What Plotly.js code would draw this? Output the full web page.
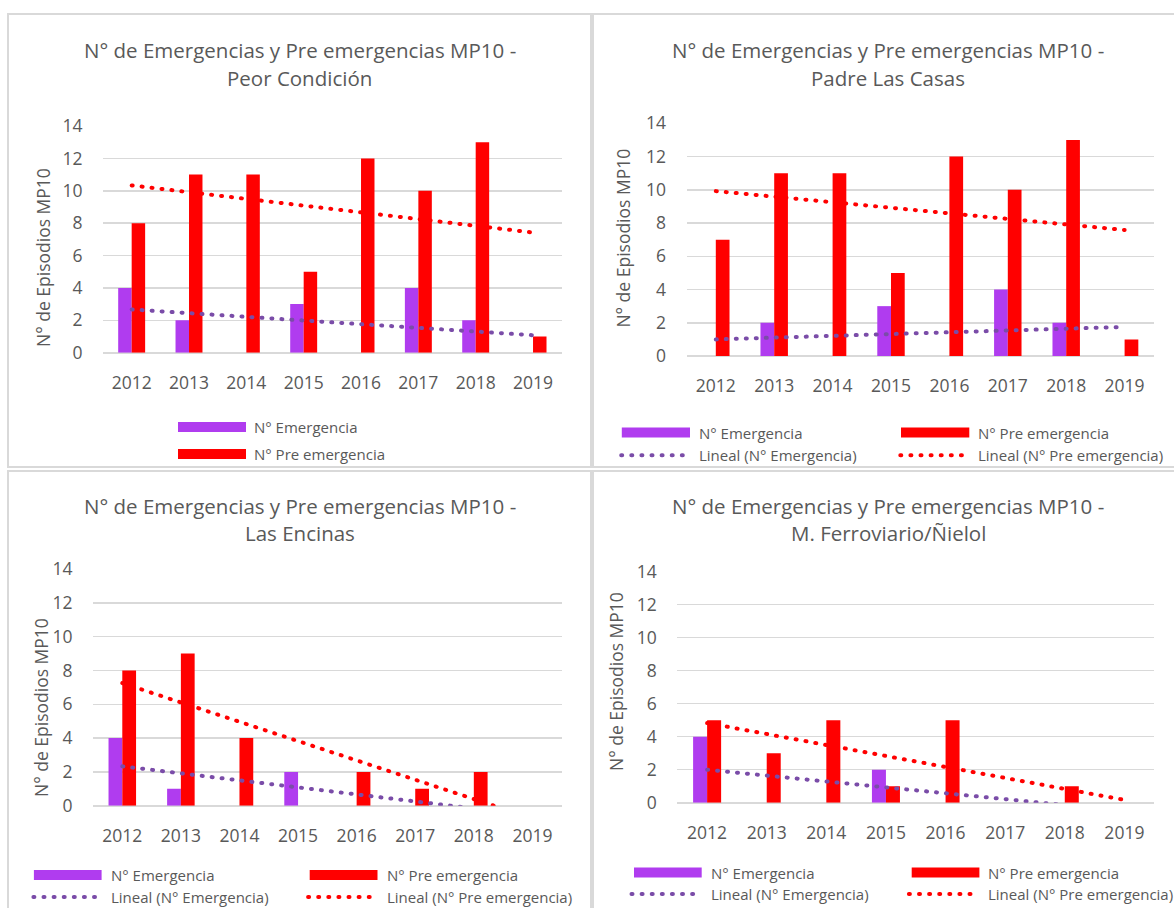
<!DOCTYPE html>
<html>
<head>
<meta charset="utf-8">
<script src="https://cdn.plot.ly/plotly-3.0.1.min.js"></script>
<style>
html, body { margin: 0; padding: 0; background: #ffffff; }
#chart { width: 1174px; height: 908px; }
.scatterlayer .js-line { stroke-linecap: round; }
.shapelayer path { stroke-linecap: round; }
</style>
</head>
<body>
<div id="chart"></div>
<script>
// ---------------- DATA ----------------
const years = ['2012', '2013', '2014', '2015', '2016', '2017', '2018', '2019'];
const yTicks = [0, 2, 4, 6, 8, 10, 12, 14];

const peorEmergencia = [4, 2, 0, 3, 0, 4, 2, 0];
const peorPreEmergencia = [8, 11, 11, 5, 12, 10, 13, 1];
const padreEmergencia = [0, 2, 0, 3, 0, 4, 2, 0];
const padrePreEmergencia = [7, 11, 11, 5, 12, 10, 13, 1];
const encinasEmergencia = [4, 1, 0, 2, 0, 0, 0, 0];
const encinasPreEmergencia = [8, 9, 4, 0, 2, 1, 2, 0];
const ferroEmergencia = [4, 0, 0, 2, 0, 0, 0, 0];
const ferroPreEmergencia = [5, 3, 5, 1, 5, 0, 1, 0];

// Linear trendline values read at 2012 and 2019 (lines leave the axis below 0)
const trendYears = ['2012', '2019'];
const peorTrendEm = [2.67, 1.08];
const peorTrendPre = [10.33, 7.42];
const padreTrendEm = [1.0, 1.75];
const padreTrendPre = [9.92, 7.58];
const encinasTrendEm = [2.33, -0.58];
const encinasTrendPre = [7.25, -0.75];
const ferroTrendEm = [2.0, -0.5];
const ferroTrendPre = [4.83, 0.17];

const titleLine1 = 'N° de Emergencias y Pre emergencias MP10 -';
const stationNames = ['Peor Condición', 'Padre Las Casas', 'Las Encinas', 'M. Ferroviario/Ñielol'];
const yTitle = 'N° de Episodios MP10';
const nameEm = 'N° Emergencia';
const namePre = 'N° Pre emergencia';
const nameTrendEm = 'Lineal (N° Emergencia)';
const nameTrendPre = 'Lineal (N° Pre emergencia)';

// ---------------- STYLE / LAYOUT ----------------
const W = 1174, H = 908;
const fx = p => p / W;
const fy = p => 1 - p / H;
const FONT = '"Open Sans", "Noto Sans", "DejaVu Sans", sans-serif';
const TXT = '#595959';
const GRID = '#d9d9d9';
const C_EM = '#B03CEF';
const C_PRE = '#FF0000';
const C_TEM = '#7A4CA8';
const C_TPRE = '#FF0000';
const DOTS = '1px,9px';

const panels = [
  { em: peorEmergencia, pre: peorPreEmergencia, tEm: peorTrendEm, tPre: peorTrendPre,
    box: [8, 591, 14, 467], plot: { l: 103, r: 561.7, t: 126, b: 352.7 },
    titleX: 299.8, titleY: [50, 78], yt: [43, 258],
    legend: { type: 'v', sw: [178, 246], tx: 252.7, rows: [427, 454] } },
  { em: padreEmergencia, pre: padrePreEmergencia, tEm: padreTrendEm, tPre: padreTrendPre,
    box: [593, 1185, 14, 467], plot: { l: 686.6, r: 1153.8, t: 123.3, b: 356 },
    titleX: 888, titleY: [49.5, 78], yt: [622.6, 238],
    legend: { type: 'g', c1: [621.8, 690, 697.5], c2: [901, 969.3, 976.8],
              d1: [621.7, 682.3], d2: [900.8, 961.4], rows: [432.5, 455.2] } },
  { em: encinasEmergencia, pre: encinasPreEmergencia, tEm: encinasTrendEm, tPre: encinasTrendPre,
    box: [8, 591, 471, 920], plot: { l: 93, r: 561.7, t: 569, b: 805.7 },
    titleX: 299.8, titleY: [505.8, 533.3], yt: [40.5, 707.5],
    legend: { type: 'g', c1: [33.9, 101.6, 110], c2: [309.7, 377.5, 385.8],
              d1: [33.9, 97.1], d2: [308.6, 371.8], rows: [875, 897] } },
  { em: ferroEmergencia, pre: ferroPreEmergencia, tEm: ferroTrendEm, tPre: ferroTrendPre,
    box: [593, 1185, 471, 920], plot: { l: 677.3, r: 1154.2, t: 571.7, b: 802.7 },
    titleX: 888, titleY: [505.8, 533.3], yt: [616, 682],
    legend: { type: 'g', c1: [634, 701.7, 710], c2: [911.7, 979.4, 987],
              d1: [632, 695.3], d2: [909.4, 972.7], rows: [872.5, 894] } }
];

const traces = [];
const layout = {
  width: W, height: H,
  margin: { l: 0, r: 0, t: 0, b: 0 },
  paper_bgcolor: '#ffffff', plot_bgcolor: 'rgba(0,0,0,0)',
  barmode: 'group', bargap: 0.53, bargroupgap: 0,
  showlegend: false,
  font: { family: FONT, color: TXT },
  shapes: [], annotations: []
};

function txt(text, x, y, size, extra) {
  return Object.assign({
    text: text, x: fx(x), y: fy(y), xref: 'paper', yref: 'paper',
    showarrow: false, xanchor: 'center', yanchor: 'middle',
    font: { family: FONT, size: size, color: TXT }
  }, extra || {});
}
function swatch(x0, x1, yc, color) {
  return { type: 'rect', xref: 'paper', yref: 'paper', x0: fx(x0), x1: fx(x1),
           y0: fy(yc - 5), y1: fy(yc + 5), fillcolor: color, line: { width: 0 } };
}
function dotLine(x0, x1, yc, color) {
  return { type: 'line', xref: 'paper', yref: 'paper', x0: fx(x0 - 0.5), x1: fx(x1 + 0.5),
           y0: fy(yc), y1: fy(yc), line: { color: color, width: 4, dash: '1px,9.1px' } };
}

panels.forEach((p, i) => {
  const n = i + 1;
  const xa = n === 1 ? 'x' : 'x' + n;
  const ya = n === 1 ? 'y' : 'y' + n;
  const xk = n === 1 ? 'xaxis' : 'xaxis' + n;
  const yk = n === 1 ? 'yaxis' : 'yaxis' + n;

  traces.push({ type: 'bar', name: nameEm, x: years, y: p.em, xaxis: xa, yaxis: ya,
    marker: { color: C_EM, line: { width: 0 } }, hoverinfo: 'x+y+name' });
  traces.push({ type: 'bar', name: namePre, x: years, y: p.pre, xaxis: xa, yaxis: ya,
    marker: { color: C_PRE, line: { width: 0 } }, hoverinfo: 'x+y+name' });
  traces.push({ type: 'scatter', mode: 'lines', name: nameTrendEm, x: trendYears, y: p.tEm,
    xaxis: xa, yaxis: ya, line: { color: C_TEM, width: 4, dash: DOTS } });
  traces.push({ type: 'scatter', mode: 'lines', name: nameTrendPre, x: trendYears, y: p.tPre,
    xaxis: xa, yaxis: ya, line: { color: C_TPRE, width: 4, dash: DOTS } });

  layout[xk] = {
    domain: [fx(p.plot.l), fx(p.plot.r)], anchor: ya,
    type: 'category', categoryorder: 'array', categoryarray: years,
    showgrid: false, zeroline: false, showline: false,
    ticks: 'outside', ticklen: 14, tickcolor: 'rgba(0,0,0,0)',
    tickfont: { family: FONT, size: 17.5, color: TXT }, fixedrange: true
  };
  layout[yk] = {
    domain: [fy(p.plot.b), fy(p.plot.t)], anchor: xa,
    range: [0, 14], tickmode: 'array', tickvals: yTicks,
    showgrid: true, gridcolor: GRID, gridwidth: 1.5,
    zeroline: true, zerolinecolor: GRID, zerolinewidth: 2, showline: false,
    ticks: 'outside', ticklen: 16, tickcolor: 'rgba(0,0,0,0)',
    tickfont: { family: FONT, size: 17.5, color: TXT }, fixedrange: true
  };

  // panel border
  layout.shapes.push({ type: 'rect', xref: 'paper', yref: 'paper', layer: 'below',
    x0: fx(p.box[0]), x1: fx(p.box[1]), y0: fy(p.box[2]), y1: fy(p.box[3]),
    line: { color: GRID, width: 2 }, fillcolor: 'rgba(0,0,0,0)' });

  // title
  layout.annotations.push(txt(titleLine1, p.titleX, p.titleY[0], 20.5));
  layout.annotations.push(txt(stationNames[i], p.titleX, p.titleY[1], 20.5));
  // y axis title
  layout.annotations.push(txt(yTitle, p.yt[0], p.yt[1], 17.5, { textangle: -90 }));

  // legend
  const L = p.legend;
  if (L.type === 'v') {
    layout.shapes.push(swatch(L.sw[0], L.sw[1], L.rows[0], C_EM));
    layout.shapes.push(swatch(L.sw[0], L.sw[1], L.rows[1], C_PRE));
    layout.annotations.push(txt(nameEm, L.tx - 1, L.rows[0], 15, { xanchor: 'left' }));
    layout.annotations.push(txt(namePre, L.tx - 1, L.rows[1], 15, { xanchor: 'left' }));
  } else {
    layout.shapes.push(swatch(L.c1[0], L.c1[1], L.rows[0], C_EM));
    layout.shapes.push(swatch(L.c2[0], L.c2[1], L.rows[0], C_PRE));
    layout.shapes.push(dotLine(L.d1[0], L.d1[1], L.rows[1], C_TEM));
    layout.shapes.push(dotLine(L.d2[0], L.d2[1], L.rows[1], C_TPRE));
    layout.annotations.push(txt(nameEm, L.c1[2] - 1, L.rows[0], 15, { xanchor: 'left' }));
    layout.annotations.push(txt(namePre, L.c2[2] - 1, L.rows[0], 15, { xanchor: 'left' }));
    layout.annotations.push(txt(nameTrendEm, L.c1[2] - 1, L.rows[1], 15, { xanchor: 'left' }));
    layout.annotations.push(txt(nameTrendPre, L.c2[2] - 1, L.rows[1], 15, { xanchor: 'left' }));
  }
});

Plotly.newPlot('chart', traces, layout, { displayModeBar: false, staticPlot: true });
</script>
</body>
</html>
